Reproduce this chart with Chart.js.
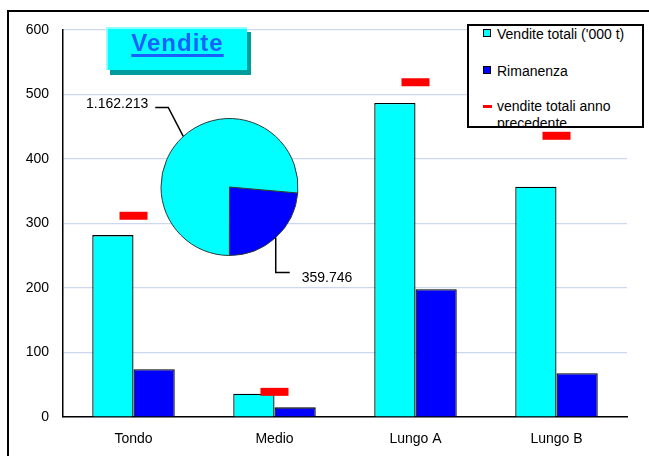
<!DOCTYPE html>
<html>
<head>
<meta charset="utf-8">
<script src="https://cdn.jsdelivr.net/npm/chart.js@4.4.1/dist/chart.umd.min.js"></script>
<style>
  html, body { margin:0; padding:0; background:#fff; }
  body { width:649px; height:456px; overflow:hidden; position:relative; font-family:"Liberation Sans", Arial, sans-serif; }
  #frame { position:absolute; left:7px; top:10px; width:700px; height:500px; border-left:2px solid #000; border-top:2px solid #000; }
  canvas { position:absolute; left:0; top:0; }
  #pie { pointer-events:none; }
  #title { position:absolute; left:106px; top:27px; width:141px; height:43px; box-sizing:border-box;
    background:#00ffff; border-top:2px solid #8cffff; border-left:2px solid #8cffff;
    box-shadow:4px 5px 0 #009c9c; text-align:center; line-height:40px;
    font:bold 24px "Liberation Sans", Arial, sans-serif; letter-spacing:1px; color:#1a5fff;
    text-decoration:underline; text-decoration-thickness:3px; text-underline-offset:3px; }
  #legend { position:absolute; left:467px; top:24px; width:177px; height:104px; box-sizing:border-box;
    border:2px solid #000; background:#fff; overflow:hidden; font-size:14px; color:#000; }
  .item { position:absolute; left:28px; line-height:17px; white-space:nowrap; }
  .mk { position:absolute; left:14px; box-sizing:border-box; }
</style>
</head>
<body>
<div id="frame"></div>
<canvas id="bars" width="649" height="456"></canvas>
<canvas id="pie" width="649" height="456"></canvas>
<div id="title">Vendite</div>
<div id="legend"></div>
<script>
// ---- data ----
const categories = ['Tondo', 'Medio', 'Lungo A', 'Lungo B'];
const venditeTotali = [282, 36, 487, 357];
const rimanenza = [74, 15, 198, 68];
const venditeAnnoPrecedente = [312, 39, 519, 436];
const seriesLabels = ["Vendite totali ('000 t)", 'Rimanenza', 'vendite totali anno precedente'];
const yTicks = [0, 100, 200, 300, 400, 500, 600];
const pieLabels = ['Rimanenza', 'Vendite totali'];
const pieValues = [359746, 1162213];

const CYAN = '#00ffff', BLUE = '#0000ff', RED = '#ff0000';
Chart.defaults.font.family = '"Liberation Sans", Arial, sans-serif';
Chart.defaults.color = '#000';

new Chart(document.getElementById('bars'), {
  type: 'bar',
  data: {
    labels: categories,
    datasets: [
      { type: 'line', label: seriesLabels[2], data: venditeAnnoPrecedente, showLine: false,
        pointStyle: 'line', pointRadius: 14, pointHoverRadius: 14, pointBorderWidth: 8,
        pointBorderColor: RED, borderColor: RED, backgroundColor: RED, order: 0 },
      { label: seriesLabels[0], data: venditeTotali, backgroundColor: CYAN, borderColor: '#000',
        borderWidth: 1.3, order: 1, categoryPercentage: 0.585, barPercentage: 1 },
      { label: seriesLabels[1], data: rimanenza, backgroundColor: BLUE, borderColor: '#000',
        borderWidth: 1.3, order: 1, categoryPercentage: 0.585, barPercentage: 1 }
    ]
  },
  options: {
    responsive: false, animation: false,
    layout: { padding: { left: 8, top: 30, right: 17, bottom: 0 } },
    plugins: { legend: { display: false }, tooltip: { enabled: false } },
    scales: {
      x: {
        grid: { display: false, drawTicks: false },
        border: { display: true, color: '#000', width: 1.5 },
        ticks: { font: { size: 14 }, padding: 14, color: '#000' },
        afterFit: s => { s.height = 39; }
      },
      y: {
        min: 0, max: 600,
        afterBuildTicks: s => { s.ticks = yTicks.map(v => ({ value: v })); },
        grid: { color: '#ccd8ee', lineWidth: 1.2, drawTicks: false },
        border: { display: true, color: '#000', width: 1.5 },
        ticks: { font: { size: 14 }, padding: 14, color: '#000' },
        afterFit: s => { s.width = 55; }
      }
    }
  }
});

function fmtIt(n) { return String(n).replace(/\B(?=(\d{3})+(?!\d))/g, '.'); }

const pieLabelPlugin = {
  id: 'pieLabels',
  afterDatasetsDraw(chart) {
    const ctx = chart.ctx;
    const meta = chart.getDatasetMeta(0);
    ctx.save();
    ctx.strokeStyle = '#000';
    ctx.lineWidth = 1.5;
    ctx.fillStyle = '#000';
    ctx.font = '14px "Liberation Sans", Arial, sans-serif';
    ctx.textBaseline = 'middle';
    meta.data.forEach((arc, i) => {
      const p = arc.getProps(['x', 'y', 'startAngle', 'endAngle', 'outerRadius'], true);
      const mid = (p.startAngle + p.endAngle) / 2;
      const ex = p.x + p.outerRadius * Math.cos(mid);
      const ey = p.y + p.outerRadius * Math.sin(mid);
      const txt = fmtIt(chart.data.datasets[0].data[i]);
      ctx.beginPath();
      if (Math.cos(mid) < 0) {
        const bx = ex - 15, by = ey - 29;
        ctx.moveTo(ex, ey); ctx.lineTo(bx, by); ctx.lineTo(bx - 13, by);
        ctx.stroke();
        ctx.textAlign = 'right';
        ctx.fillText(txt, bx - 20, by - 3);
      } else {
        const by = ey + 35;
        ctx.moveTo(ex, ey); ctx.lineTo(ex, by); ctx.lineTo(ex + 14, by);
        ctx.stroke();
        ctx.textAlign = 'left';
        ctx.fillText(txt, ex + 26, by + 6);
      }
    });
    ctx.restore();
  }
};

new Chart(document.getElementById('pie'), {
  type: 'pie',
  data: {
    labels: pieLabels,
    datasets: [{ data: pieValues, backgroundColor: [BLUE, CYAN], borderColor: '#2a3a3a', borderWidth: 1 }]
  },
  options: {
    responsive: false, animation: false, rotation: 95,
    layout: { padding: { left: 160, top: 118, right: 350, bottom: 200 } },
    plugins: { legend: { display: false }, tooltip: { enabled: false } }
  },
  plugins: [pieLabelPlugin]
});

// ---- HTML legend ----
const legend = document.getElementById('legend');
const items = [
  { text: seriesLabels[0], color: CYAN, top: 0, kind: 'box' },
  { text: seriesLabels[1], color: BLUE, top: 37, kind: 'box' },
  { text: 'vendite totali anno<br>precedente', color: RED, top: 72, kind: 'line' }
];
items.forEach(it => {
  const t = document.createElement('div');
  t.className = 'item';
  t.style.top = it.top + 'px';
  t.innerHTML = it.text;
  legend.appendChild(t);
  const m = document.createElement('div');
  m.className = 'mk';
  if (it.kind === 'box') {
    m.style.cssText += 'width:8px;height:8px;border:1px solid #000;background:' + it.color + ';top:' + (it.top + 3) + 'px;';
  } else {
    m.style.cssText += 'width:9px;height:3px;background:' + it.color + ';top:' + (it.top + 7) + 'px;';
  }
  legend.appendChild(m);
});
</script>
</body>
</html>
